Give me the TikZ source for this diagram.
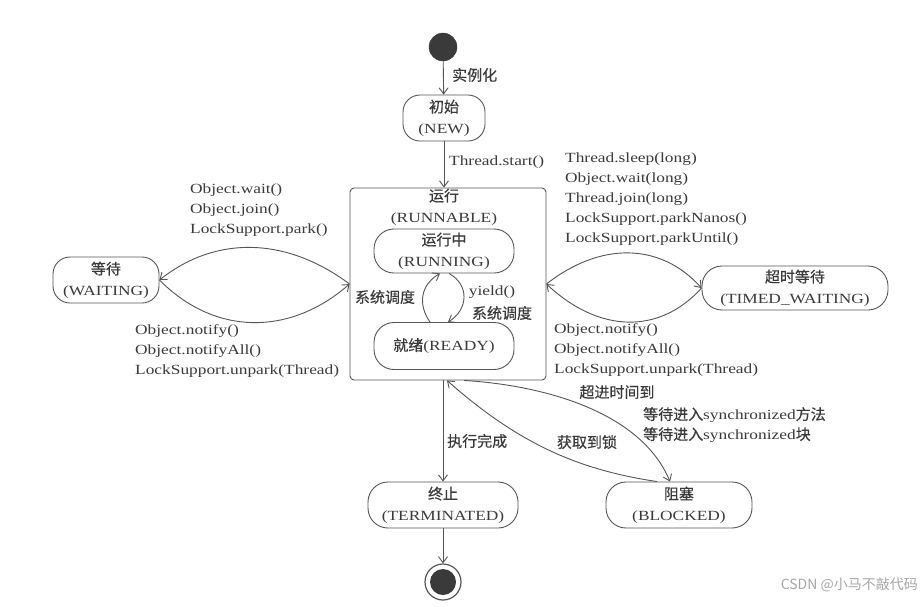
\documentclass[tikz,border=0pt]{standalone}
\usepackage{fontspec}
\setmainfont{Liberation Serif}[FakeStretch=1.24]
\newfontfamily\zhfont{Noto Sans CJK SC}[FakeBold=0.5]
\newfontfamily\wmfont{Noto Sans CJK SC}
\usetikzlibrary{arrows.meta,positioning}
\newcommand{\zh}[1]{{\fontsize{15}{20}\zhfont #1}}
\definecolor{inkgray}{HTML}{3A3A3A}
\definecolor{linegray}{HTML}{555555}

\begin{document}
\begin{tikzpicture}[
        x=1pt,y=-1pt,
        arr/.style={draw=linegray,line width=0.9pt,-{Straight Barb[length=6pt,width=9pt]}},
        state/.style={rounded corners=17pt,draw=linegray,line width=0.9pt,align=center,
            font=\fontsize{14}{21}\selectfont,text=inkgray,inner sep=0pt},
        lbl/.style={font=\fontsize{14}{20}\selectfont,text=inkgray,align=left,inner sep=0pt}
    ]
        \path [use as bounding box] (0,0) rectangle (921,606);

        % start and end points
        \node [circle,fill=inkgray,draw=inkgray,minimum size=28pt,inner sep=0pt] (start) at (443,47) {};
        \node [circle,draw=linegray,line width=1.2pt,minimum size=36pt,inner sep=0pt] (end) at (443,582) {};
        \node [circle,fill=inkgray,minimum size=26pt,inner sep=0pt] (endcore) at (end) {};

        % states
        \node [state,minimum width=82pt,minimum height=46pt] (new) at (444,118) {\zh{初始}\\(NEW)};
        \node [state,rounded corners=4pt,minimum width=196pt,minimum height=192pt] (runnable) at (448,284) {};
        \node [lbl,align=center,font=\fontsize{14}{21}\selectfont] (runnabletitle) at (444,207) {\zh{运行}\\(RUNNABLE)};
        \node [state,minimum width=140pt,minimum height=44pt,rounded corners=20pt] (running) at (444,251) {\zh{运行中}\\(RUNNING)};
        \node [state,minimum width=140pt,minimum height=47pt,rounded corners=20pt] (ready) at (444,346) {\zh{就绪}(READY)};
        \node [state,minimum width=106pt,minimum height=46pt] (waiting) at (106,280) {\zh{等待}\\(WAITING)};
        \node [state,minimum width=186pt,minimum height=44pt,rounded corners=20pt] (timed) at (795,288) {\zh{超时等待}\\(TIMED\_WAITING)};
        \node [state,minimum width=150pt,minimum height=46pt,rounded corners=20pt] (terminated) at (443,505) {\zh{终止}\\(TERMINATED)};
        \node [state,minimum width=146pt,minimum height=46pt,rounded corners=20pt] (blocked) at (679,505) {\zh{阻塞}\\(BLOCKED)};

        % straight transitions
        \draw [arr] (start) -- (new);
        \draw [arr] (new.south) -- (new.south |- runnable.north);
        \draw [arr] (runnable.south -| terminated) -- (terminated);
        \draw [arr] (terminated) -- (end);

        % running <-> ready
        \draw [arr] ([xshift=-14pt]ready.north) .. controls (418,305) and (420,285) .. ([xshift=-4pt]running.south);
        \draw [arr] ([xshift=5pt]running.south) .. controls (470,285) and (468,310) .. ([xshift=4pt]ready.north);

        % waiting
        \draw [arr] (runnable.west) .. controls (285,236) and (215,236) .. (waiting.east);
        \draw [arr] (waiting.east) .. controls (215,336) and (290,336) .. (runnable.west);

        % timed waiting
        \draw [arr] (runnable.east) .. controls (600,242) and (660,242) .. (timed.west);
        \draw [arr] (timed.west) .. controls (660,334) and (600,334) .. (runnable.east);

        % blocked
        \draw [arr] ([xshift=16pt]runnable.south) .. controls (540,385) and (640,410) .. ([xshift=-9pt]blocked.north);
        \draw [arr] ([xshift=-22pt]blocked.north) .. controls (580,470) and (520,445) .. ([xshift=-1pt]runnable.south);

        % labels
        \node [lbl,anchor=west] (lnew) at (452,75) {\zh{实例化}};
        \node [lbl,anchor=west] (lstart) at (449,162) {Thread.start()};
        \node [lbl,anchor=west] (lwait) at (190,210) {Object.wait()\\Object.join()\\LockSupport.park()};
        \node [lbl,anchor=west] (lnotify) at (135,351) {Object.notify()\\Object.notifyAll()\\LockSupport.unpark(Thread)};
        \node [lbl,anchor=west] (lsleep) at (565,199) {Thread.sleep(long)\\Object.wait(long)\\Thread.join(long)\\LockSupport.parkNanos()\\LockSupport.parkUntil()};
        \node [lbl,anchor=west] (ltnotify) at (554,350) {Object.notify()\\Object.notifyAll()\\LockSupport.unpark(Thread)};
        \node [lbl] (lsched) at (385,297) {\zh{系统调度}};
        \node [lbl] (lyield) at (492,292) {yield()};
        \node [lbl] (lsched2) at (502,313) {\zh{系统调度}};
        \node [lbl,anchor=west] (ldone) at (447,441) {\zh{执行完成}};
        \node [lbl] (llock) at (587,442) {\zh{获取到锁}};
        \node [lbl] (ltimeout) at (617,392) {\zh{超进时间到}};
        \node [lbl,anchor=west] (lsync) at (643,425) {\zh{等待进入}synchronized\zh{方法}\\\zh{等待进入}synchronized\zh{块}};

        % watermark
        \node [anchor=east,inner sep=0pt,text=black!35,font=\wmfont\fontsize{14}{16}\selectfont] (mark) at (918,585) {CSDN @小马不敲代码};
    \end{tikzpicture}
\end{document}
